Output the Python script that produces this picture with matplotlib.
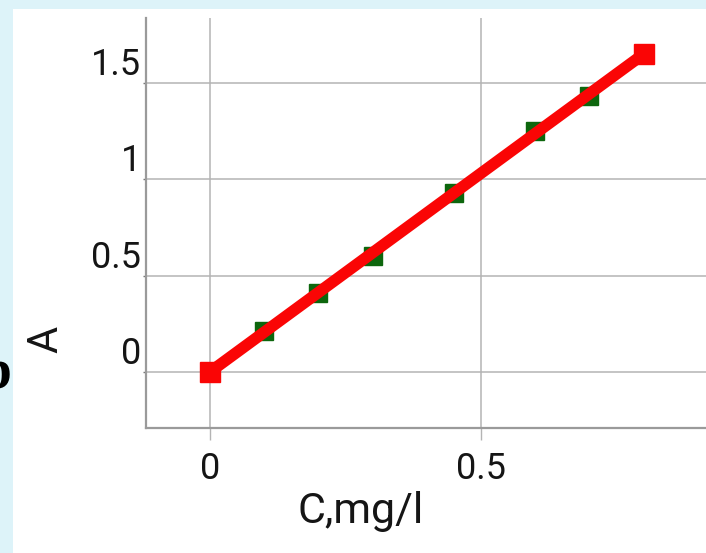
import matplotlib
matplotlib.use("Agg")
import matplotlib.pyplot as plt
from matplotlib.patches import Rectangle

# Data
meas_x = [0.1, 0.2, 0.3, 0.45, 0.6, 0.7]
meas_y = [0.21, 0.41, 0.60, 0.93, 1.25, 1.43]
fit_x = [0.0, 0.8]
fit_y = [0.0, 1.65]
xticks = [0, 0.5]
xtick_labels = ["0", "0.5"]
yticks = [0, 0.5, 1, 1.5]
ytick_labels = ["0", "0.5", "1", "1.5"]

W, H = 706, 553
txt_c = "#151515"
fig = plt.figure(figsize=(W / 100, H / 100), dpi=100, facecolor="#ddf3f9")
fig.patches.append(Rectangle((13 / W, 0), 1, 1 - 9 / H, transform=fig.transFigure,
                             facecolor="white", edgecolor="none", zorder=-5))

ax = fig.add_axes([146 / W, 1 - 428 / H, 1 - 146 / W, (428 - 18) / H])
ax.set_facecolor("none")
ax.set_xlim(-0.118, 0.915)
ax.set_ylim(-0.291, 1.837)

grid_c = "#b4b4b4"
ax.set_xticks(xticks)
ax.set_xticklabels(xtick_labels, family="Roboto", fontsize=26, color=txt_c)
ax.set_yticks(yticks)
ax.set_yticklabels(ytick_labels, family="Roboto", fontsize=26, color=txt_c)
for lab in ax.get_yticklabels():
    lab.set_va("bottom")
ax.tick_params(axis="x", length=8.6, width=1.0, color=grid_c, pad=8)
ax.tick_params(axis="y", length=2.5, width=1.0, color="#777777", pad=1)
ax.grid(True, color=grid_c, linewidth=1.1)
ax.set_axisbelow(True)
for s in ["top", "right"]:
    ax.spines[s].set_visible(False)
for s in ["left", "bottom"]:
    ax.spines[s].set_color("#9a9a9a")
    ax.spines[s].set_linewidth(1.6)

ax.plot(meas_x, meas_y, linestyle="none", marker="s", markersize=13.5,
        color="#0d660d", zorder=3)
ax.plot(fit_x, fit_y, color="#fa0505", linewidth=8.3, marker="s", markersize=15,
        solid_capstyle="butt", zorder=4, clip_on=False)

fig.text(361 / W, 1 - 512 / H, "C,mg/l", family="Roboto", fontsize=31,
         color=txt_c, ha="center", va="center")
fig.text(46 / W, 1 - 339 / H, "A", rotation=90, family="Roboto", fontsize=30,
         color=txt_c, ha="center", va="center")
fig.text(11 / W, 1 - 387 / H, "b", family="Liberation Serif", fontweight="bold",
         fontsize=40, color="black", ha="right", va="baseline")

fig.savefig("out.png", dpi=100, facecolor=fig.get_facecolor())
